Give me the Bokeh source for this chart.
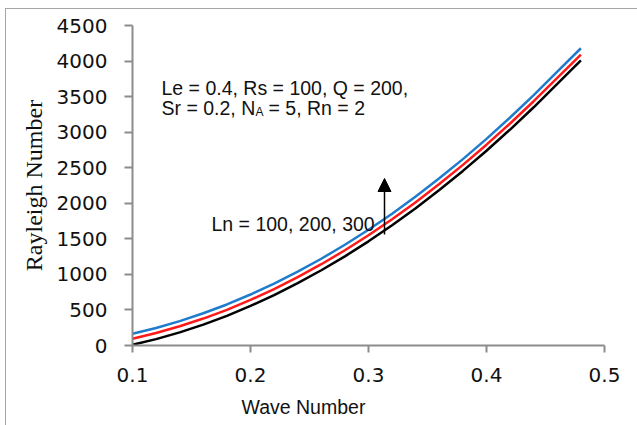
from bokeh.plotting import figure
from bokeh.models import Range1d, FixedTicker, Label, Arrow, NormalHead, Title
from bokeh.embed import file_html
from bokeh.resources import INLINE

# ---- data ----
wave_number = [0.10, 0.12, 0.14, 0.16, 0.18, 0.20, 0.22, 0.24, 0.26, 0.28,
               0.30, 0.32, 0.34, 0.36, 0.38, 0.40, 0.42, 0.44, 0.46, 0.48]
ra_ln100 = [10, 90, 185, 294, 417, 556, 709, 876, 1058, 1254,
            1465, 1691, 1931, 2186, 2455, 2739, 3037, 3350, 3678, 4010]
ra_ln200 = [95, 175, 270, 379, 502, 641, 794, 961, 1143, 1339,
            1550, 1776, 2016, 2271, 2540, 2824, 3122, 3435, 3763, 4092]
ra_ln300 = [165, 247, 343, 453, 577, 717, 871, 1038, 1220, 1417,
            1628, 1854, 2095, 2351, 2621, 2906, 3206, 3521, 3851, 4180]

x_ticks = [0.1, 0.2, 0.3, 0.4, 0.5]
x_tick_labels = ["0.1", "0.2", "0.3", "0.4", "0.5"]
y_ticks = [0, 500, 1000, 1500, 2000, 2500, 3000, 3500, 4000, 4500]
y_tick_labels = [str(v) for v in y_ticks]

param_line1 = "Le = 0.4, Rs = 100, Q = 200,"
param_line2a = "Sr = 0.2, N"
param_line2sub = "A"
param_line2b = "= 5, Rn = 2"
ln_text = "Ln = 100, 200, 300"
x_title = "Wave Number"
y_title = "Rayleigh Number"

SANS = "Liberation Sans"
AXIS_GRAY = "#8c8c8c"
FS = "19.5px"

p = figure(width=632, height=417, output_backend="svg", toolbar_location=None,
           x_range=Range1d(0.1, 0.5), y_range=Range1d(0, 4500),
           min_border_left=126, min_border_right=34, min_border_top=16,
           min_border_bottom=81)
p.margin = (8, 0, 0, 5)
p.styles = {"border-top": "1px solid #a6a6a6", "border-left": "1px solid #a6a6a6"}
p.outline_line_color = None
p.grid.visible = False
p.background_fill_color = "white"
p.border_fill_color = "white"

for ax in (p.xaxis[0], p.yaxis[0]):
    ax.axis_line_color = AXIS_GRAY
    ax.axis_line_width = 2
    ax.major_tick_line_color = AXIS_GRAY
    ax.major_tick_line_width = 2
    ax.major_tick_in = 0
    ax.minor_tick_line_color = None
    ax.major_label_text_font = "DejaVu Sans"
    ax.major_label_text_font_size = "20px"
    ax.major_label_text_color = "#111111"

p.xaxis.ticker = FixedTicker(ticks=x_ticks)
p.xaxis.major_label_overrides = dict(zip(x_ticks, x_tick_labels))
p.xaxis.major_tick_out = 7
p.xaxis.major_label_standoff = 15
p.yaxis.ticker = FixedTicker(ticks=y_ticks)
p.yaxis.major_label_overrides = dict(zip(y_ticks, y_tick_labels))
p.yaxis.major_tick_out = 8
p.yaxis.major_label_standoff = 17
p.yaxis.axis_label = y_title
p.yaxis.axis_label_text_font = "Liberation Serif"
p.yaxis.axis_label_text_font_style = "normal"
p.yaxis.axis_label_text_font_size = "24px"
p.yaxis.axis_label_text_color = "#111111"
p.yaxis.axis_label_standoff = 7

# x-axis title sits left of the frame centre in the reference
p.add_layout(Title(text=x_title, align="left", offset=109, standoff=18,
                   text_font=SANS, text_font_size=FS, text_font_style="normal",
                   text_color="#111111"), "below")

p.line(wave_number, ra_ln100, line_color="black", line_width=2.5)
p.line(wave_number, ra_ln200, line_color="#ff1a1a", line_width=2.5)
p.line(wave_number, ra_ln300, line_color="#1f7ccc", line_width=2.5)

def px_to_x(px):
    return 0.1 + (px - 131) / 1180.0

def py_to_y(py):
    return (344 - py) * 14.0625

txt = dict(text_font=SANS, text_font_size=FS, text_color="#111111",
           text_baseline="alphabetic")
p.add_layout(Label(x=px_to_x(160), y=py_to_y(86), text=param_line1, **txt))
p.add_layout(Label(x=px_to_x(160), y=py_to_y(106), text=param_line2a, **txt))
p.add_layout(Label(x=px_to_x(254), y=py_to_y(110), text=param_line2sub,
                   text_font=SANS, text_font_size="12px", text_color="#111111",
                   text_baseline="alphabetic"))
p.add_layout(Label(x=px_to_x(267), y=py_to_y(106), text=param_line2b, **txt))
p.add_layout(Label(x=px_to_x(210), y=py_to_y(222), text=ln_text, **txt))

p.add_layout(Arrow(x_start=px_to_x(383), y_start=py_to_y(233),
                   x_end=px_to_x(383), y_end=py_to_y(177),
                   line_color="black", line_width=1.5,
                   end=NormalHead(size=13, fill_color="black", line_color="black")))

open("out.html", "w").write(file_html(p, INLINE))
